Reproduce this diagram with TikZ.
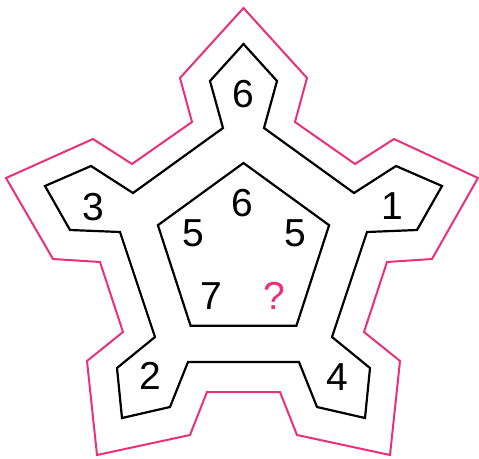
\documentclass[tikz,border=0pt]{standalone}
\usepackage{fontspec}
\setmainfont{Liberation Sans}
\definecolor{starpink}{RGB}{233,48,120}

\begin{document}
\begin{tikzpicture}[x=1pt, y=-1pt, line width=2.2pt, line cap=round, line join=miter,
  num/.style={font=\fontsize{39}{41}\selectfont, inner sep=0pt}]

  %% ════ outer star (pink) ════
  \draw[starpink, line width=2.0pt] (243.5,8.0) -- (180.0,78.0) -- (192.0,122.0) -- (132.0,164.0) -- (93.0,139.0)
    -- (6.0,178.0) -- (53.0,259.0) -- (100.0,262.0) -- (123.0,332.0) -- (87.0,361.0)
    -- (97.0,455.0) -- (190.0,435.0) -- (207.0,392.0) -- (280.0,392.0) -- (297.0,435.0)
    -- (390.0,455.0) -- (400.0,361.0) -- (364.0,332.0) -- (387.0,262.0) -- (432.0,259.0)
    -- (478.0,178.0) -- (394.0,139.0) -- (355.0,164.0) -- (295.0,122.0) -- (307.0,78.0) -- cycle;

  %% ════ middle track (black) ════
  \draw (243.5,44.0) -- (210.0,81.0) -- (223.0,128.0) -- (133.0,193.0) -- (91.0,166.0)
    -- (45.0,186.0) -- (70.0,230.0) -- (120.0,232.0) -- (155.0,337.0) -- (117.0,368.0)
    -- (122.0,418.0) -- (170.0,407.0) -- (188.0,362.0) -- (299.0,362.0) -- (317.0,407.0)
    -- (365.0,418.0) -- (370.0,368.0) -- (332.0,337.0) -- (367.0,232.0) -- (417.0,230.0)
    -- (442.0,186.0) -- (396.0,166.0) -- (354.0,193.0) -- (264.0,128.0) -- (277.0,81.0) -- cycle;

  %% ════ inner pentagon ════
  \draw (243.5,163.0) -- (329.1,225.2) -- (296.4,325.8) -- (190.6,325.8) -- (157.9,225.2) -- cycle;

  %% ════ labels ════
  \node[num] (top)   at (243.5,94.0)  {6};
  \node[num] (left)  at (93.0,207.0)  {3};
  \node[num] (right) at (392.0,206.0) {1};
  \node[num] (botl)  at (150.0,376.0) {2};
  \node[num] (botr)  at (337.0,377.0) {4};

  \node[num] (ctop)  at (242.5,203.0) {6};
  \node[num] (cleft) at (193.0,233.0) {5};
  \node[num] (crght) at (295.5,233.0) {5};
  \node[num] (cbl)   at (211.5,296.0) {7};
  \node[num, text=starpink] (cbr) at (274.0,296.0) {?};

  \pgfresetboundingbox
  \path[use as bounding box] (0,0) rectangle (479,458);
\end{tikzpicture}
\end{document}
